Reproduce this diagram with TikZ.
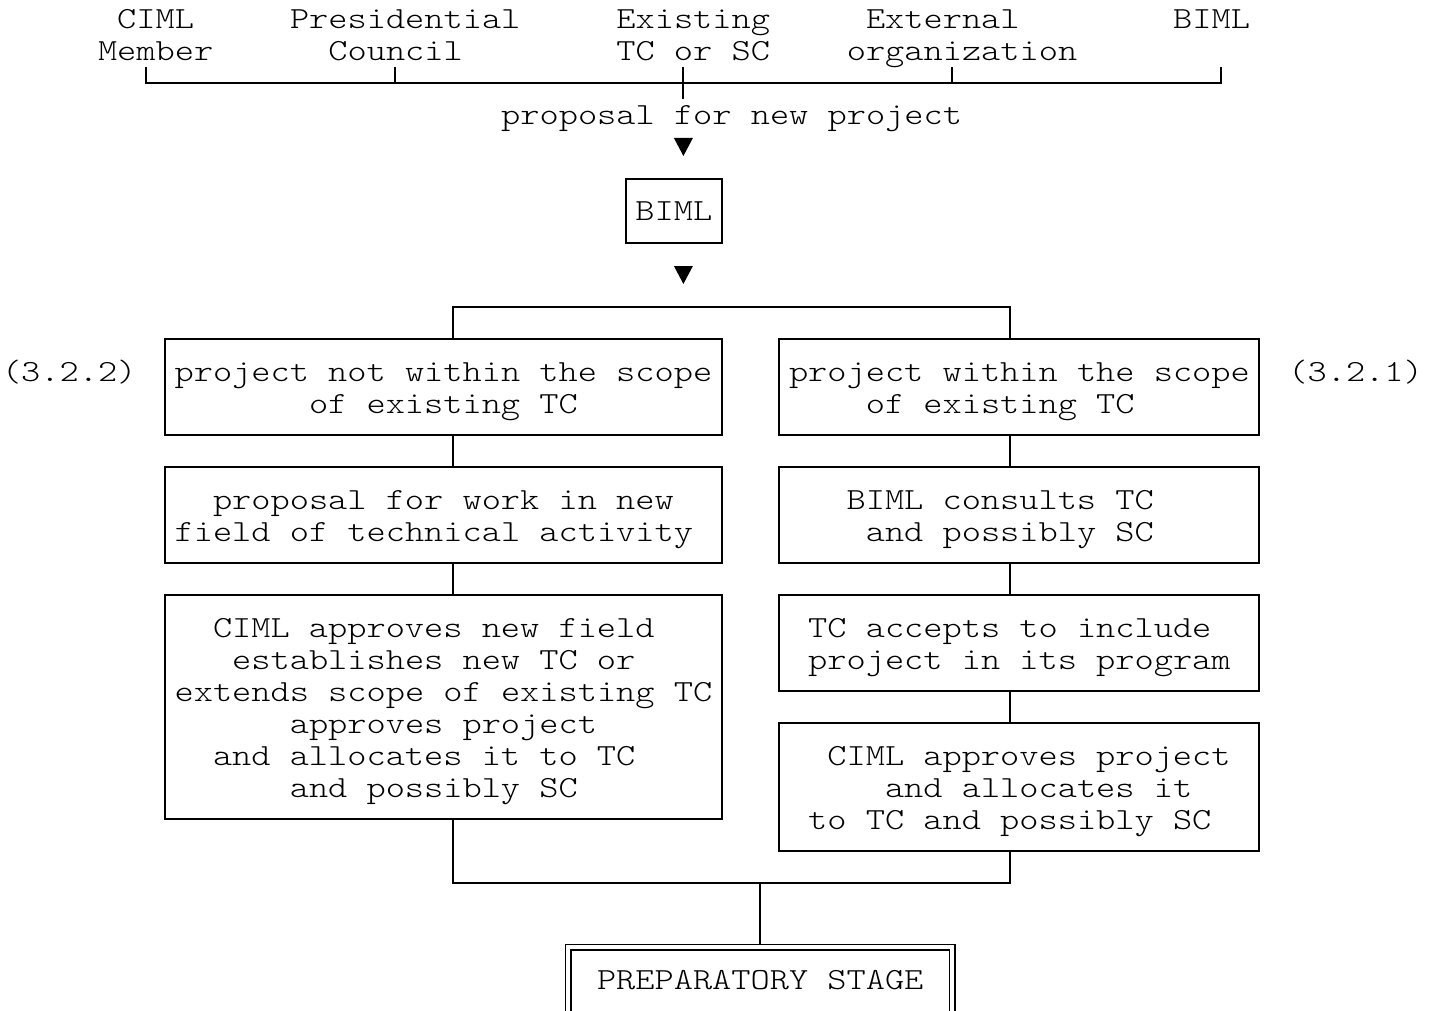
\documentclass[tikz,border=0pt]{standalone}
\usepackage{graphicx}
\usetikzlibrary{calc}
\newlength\cw
\setlength\cw{19.2pt}
\newlength\tmpw
\newcommand\mystrut{\rule[-6pt]{0pt}{32pt}}
\newcommand\ind[1]{\hspace*{#1\cw}}
\newcommand\gx[1]{165+19.2*(#1)}
\newcommand\sx[1]{155.4+19.2*(#1)}
\newcommand\gy[1]{19+32*(#1)}
\begin{document}
\normalbaselineskip=32pt
\normallineskip=0pt
\lineskiplimit=-100pt
\settowidth\tmpw{\fontsize{20pt}{20pt}\fontseries{l}\ttfamily\selectfont M}
\pgfmathsetmacro\fsz{20*19.2/\tmpw}
\newcommand\mono{\fontsize{\fsz pt}{32pt}\fontseries{l}\ttfamily\selectfont
  \fontdimen2\font=\cw\fontdimen3\font=0pt\fontdimen4\font=0pt
  \spaceskip=\cw\relax\xspaceskip=\cw\relax}
\newcommand\lin[2]{\mystrut\smash{\scalebox{1}[0.84]{\mono\ind{#1}#2}}}
\begin{tikzpicture}[x=1pt,y=-1pt,
  every node/.style={font=\mono},
  ln/.style={line width=2pt},
  lab/.style={inner sep=0pt, anchor=west, align=left},
  box/.style n args={2}{draw, line width=2pt, inner xsep=9.6pt, inner ysep=0pt,
    align=left, text width=#1\cw, minimum height=#2*32pt},
  tri/.style={fill=black}]
\useasboundingbox (0,0) rectangle (1432,1011);

% sources
\node[lab] (src1) at ({\sx{-3}},{\gy{0.5}}) {\lin{1}{CIML}\\\lin{0}{Member}};
\node[lab] (src2) at ({\sx{7}},{\gy{0.5}}) {\lin{0}{Presidential}\\\lin{2}{Council}};
\node[lab] (src3) at ({\sx{24}},{\gy{0.5}}) {\lin{0}{Existing}\\\lin{0}{TC or SC}};
\node[lab] (src4) at ({\sx{36}},{\gy{0.5}}) {\lin{1}{External}\\\lin{0}{organization}};
\node[lab] (src5) at ({\sx{53}},{\gy{0.5}}) {\lin{0}{BIML}\\\mystrut};
\node[lab] (prop) at ({\sx{18}},{\gy{3}}) {\lin{0}{proposal for new project}};

\coordinate (b1) at ({\gx{-1}},{\gy{2}});
\coordinate (b2) at ({\gx{12}},{\gy{2}});
\coordinate (b3) at ({\gx{27}},{\gy{2}});
\coordinate (b4) at ({\gx{41}},{\gy{2}});
\coordinate (b5) at ({\gx{55}},{\gy{2}});
\draw[ln] (src1.south -| b1) -- (b1) -- (b5) -- (src5.south -| b5);
\draw[ln] (src2.south -| b2) -- (b2);
\draw[ln] (src4.south -| b4) -- (b4);
\draw[ln] (src3.south -| b3) -- (prop.north -| b3);

\coordinate (a1) at ({\gx{27}},{\gy{4}});
\fill[tri] (a1) ++(-9.5,-9) -- ++(19,0) -- ++(-9.5,18) -- cycle;

\node[box={4}{2}] (biml) at ({\gx{26.5}},{\gy{6}}) {\lin{0}{BIML}};

\coordinate (a2) at ({\gx{27}},{\gy{8}});
\fill[tri] (a2) ++(-9.5,-9) -- ++(19,0) -- ++(-9.5,18) -- cycle;

% left column
\node[box={28}{3}] (L1) at ({\gx{14.5}},{\gy{11.5}})
  {\lin{0}{project not within the scope}\\\lin{7}{of existing TC}};
\node[box={28}{3}] (L2) at ({\gx{14.5}},{\gy{15.5}})
  {\lin{2}{proposal for work in new}\\\lin{0}{field of technical activity}};
\node[box={28}{7}] (L3) at ({\gx{14.5}},{\gy{21.5}})
  {\lin{2}{CIML approves new field}\\\lin{3}{establishes new TC or}\\
   \lin{0}{extends scope of existing TC}\\\lin{6}{approves project}\\
   \lin{2}{and allocates it to TC}\\\lin{6}{and possibly SC}};

% right column
\node[box={24}{3}] (R1) at ({\gx{44.5}},{\gy{11.5}})
  {\lin{0}{project within the scope}\\\lin{4}{of existing TC}};
\node[box={24}{3}] (R2) at ({\gx{44.5}},{\gy{15.5}})
  {\lin{3}{BIML consults TC}\\\lin{4}{and possibly SC}};
\node[box={24}{3}] (R3) at ({\gx{44.5}},{\gy{19.5}})
  {\lin{1}{TC accepts to include}\\\lin{1}{project in its program}};
\node[box={24}{4}] (R4) at ({\gx{44.5}},{\gy{24}})
  {\lin{2}{CIML approves project}\\\lin{5}{and allocates it}\\\lin{1}{to TC and possibly SC}};

\node[lab] (n322) at ({\sx{-8}},{\gy{11}}) {\lin{0}{(3.2.2)}};
\node[lab] (n321) at ({\sx{59}},{\gy{11}}) {\lin{0}{(3.2.1)}};

\node[box={19}{3}, double, double distance=4pt, line width=1.5pt] (prep)
  at ({\gx{31}},{\gy{30.5}}) {\lin{1}{PREPARATORY STAGE}\\\mystrut};

% connectors
\coordinate (brL) at ({\gx{15}},{\gy{9}});
\coordinate (brR) at ({\gx{44}},{\gy{9}});
\draw[ln] (L1.north -| brL) -- (brL) -- (brR) -- (R1.north -| brR);
\draw[ln] (L1.south -| brL) -- (L2.north -| brL);
\draw[ln] (L2.south -| brL) -- (L3.north -| brL);
\draw[ln] (R1.south -| brR) -- (R2.north -| brR);
\draw[ln] (R2.south -| brR) -- (R3.north -| brR);
\draw[ln] (R3.south -| brR) -- (R4.north -| brR);
\coordinate (jL) at ({\gx{15}},{\gy{27}});
\coordinate (jR) at ({\gx{44}},{\gy{27}});
\coordinate (jM) at ({\gx{31}},{\gy{27}});
\draw[ln] (L3.south -| jL) -- (jL) -- (jR) -- (R4.south -| jR);
\draw[ln, shorten >=2.5pt] (jM) -- (prep.north);
\end{tikzpicture}
\end{document}
